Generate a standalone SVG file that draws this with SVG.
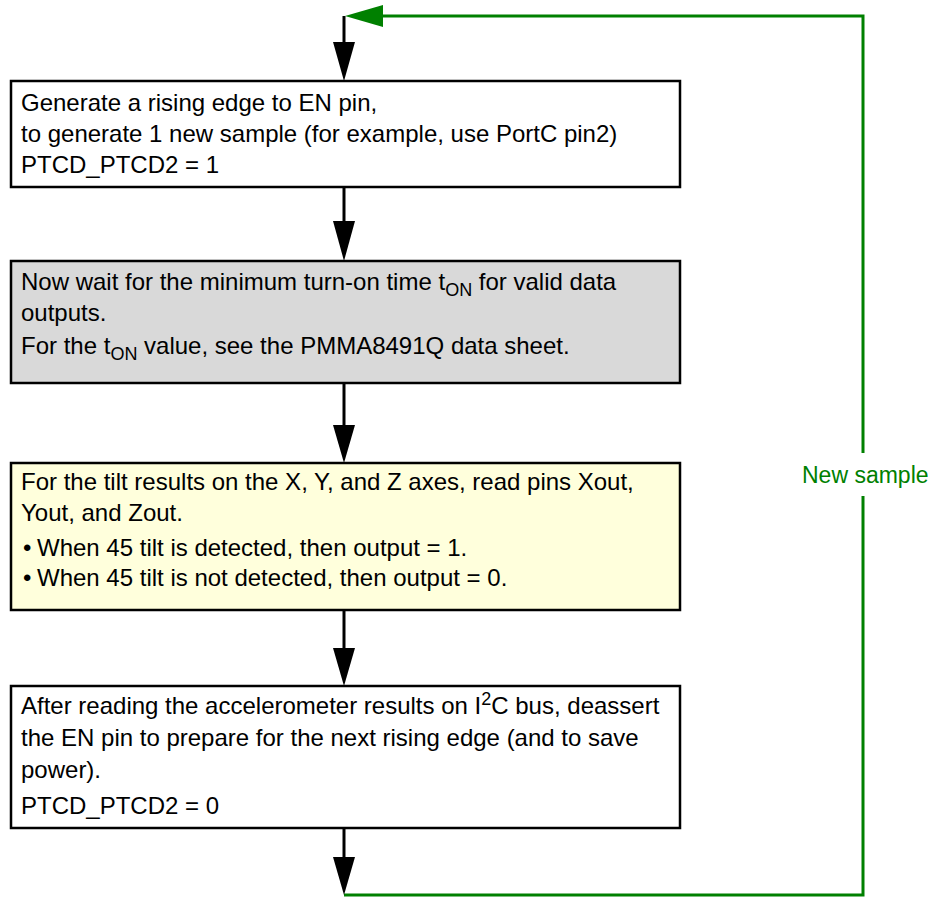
<svg xmlns="http://www.w3.org/2000/svg" width="936" height="899" viewBox="0 0 936 899">
<defs>
<style>
.box{stroke:#000;stroke-width:2.5}
.t{font-family:"Liberation Sans",Arial,sans-serif;font-size:24px;fill:#000}
.lbl{font-family:"Liberation Sans",Arial,sans-serif;font-size:23px;fill:#008000}
.blk{stroke:#000;stroke-width:3;fill:none}
.grn{stroke:#008000;stroke-width:3;fill:none}
</style>
</defs>
<rect width="936" height="899" fill="#fff"/>
<g id="connectors">
<polyline class="grn" points="344,895 863,895 863,496"/>
<polyline class="grn" points="863,453 863,16 382,16"/>
<path d="M345,16 L383,5 L383,27 Z" fill="#008000"/>
<line class="blk" x1="344" y1="16" x2="344" y2="44"/>
<path d="M333,42 L355,42 L344,81 Z" fill="#000"/>
<line class="blk" x1="344" y1="187" x2="344" y2="223"/>
<path d="M333,221 L355,221 L344,261 Z" fill="#000"/>
<line class="blk" x1="344" y1="383" x2="344" y2="427"/>
<path d="M333,425 L355,425 L344,463 Z" fill="#000"/>
<line class="blk" x1="344" y1="610" x2="344" y2="650"/>
<path d="M333,648 L355,648 L344,686 Z" fill="#000"/>
<line class="blk" x1="344" y1="828" x2="344" y2="859"/>
<path d="M333,857 L355,857 L344,895 Z" fill="#000"/>
<text class="lbl" x="802" y="483">New sample</text>
</g>
<g id="n1">
<rect class="box" x="11" y="81" width="669" height="106" fill="#fff"/>
<text class="t" x="21" y="111">Generate a rising edge to EN pin,</text>
<text class="t" x="21" y="142">to generate 1 new sample (for example, use PortC pin2)</text>
<text class="t" x="21" y="173">PTCD_PTCD2 = 1</text>
</g>
<g id="n2">
<rect class="box" x="11" y="261" width="669" height="122" fill="#d9d9d9"/>
<text class="t" x="21" y="290">Now wait for the minimum turn-on time t<tspan dy="6" font-size="18">ON</tspan><tspan dy="-6"> for valid data</tspan></text>
<text class="t" x="21" y="321">outputs.</text>
<text class="t" x="21" y="354">For the t<tspan dy="6" font-size="18">ON</tspan><tspan dy="-6"> value, see the PMMA8491Q data sheet.</tspan></text>
</g>
<g id="n3">
<rect class="box" x="11" y="463" width="669" height="147" fill="#ffffdc"/>
<text class="t" x="21" y="490">For the tilt results on the X, Y, and Z axes, read pins Xout,</text>
<text class="t" x="21" y="521">Yout, and Zout.</text>
<text class="t" x="23" y="556">•</text>
<text class="t" x="37" y="556">When 45 tilt is detected, then output = 1.</text>
<text class="t" x="23" y="586">•</text>
<text class="t" x="37" y="586">When 45 tilt is not detected, then output = 0.</text>
</g>
<g id="n4">
<rect class="box" x="11" y="686" width="669" height="142" fill="#fff"/>
<text class="t" x="21" y="714">After reading the accelerometer results on I<tspan dy="-9" font-size="18">2</tspan><tspan dy="9">C bus, deassert</tspan></text>
<text class="t" x="21" y="746">the EN pin to prepare for the next rising edge (and to save</text>
<text class="t" x="21" y="778">power).</text>
<text class="t" x="21" y="814">PTCD_PTCD2 = 0</text>
</g>
</svg>
